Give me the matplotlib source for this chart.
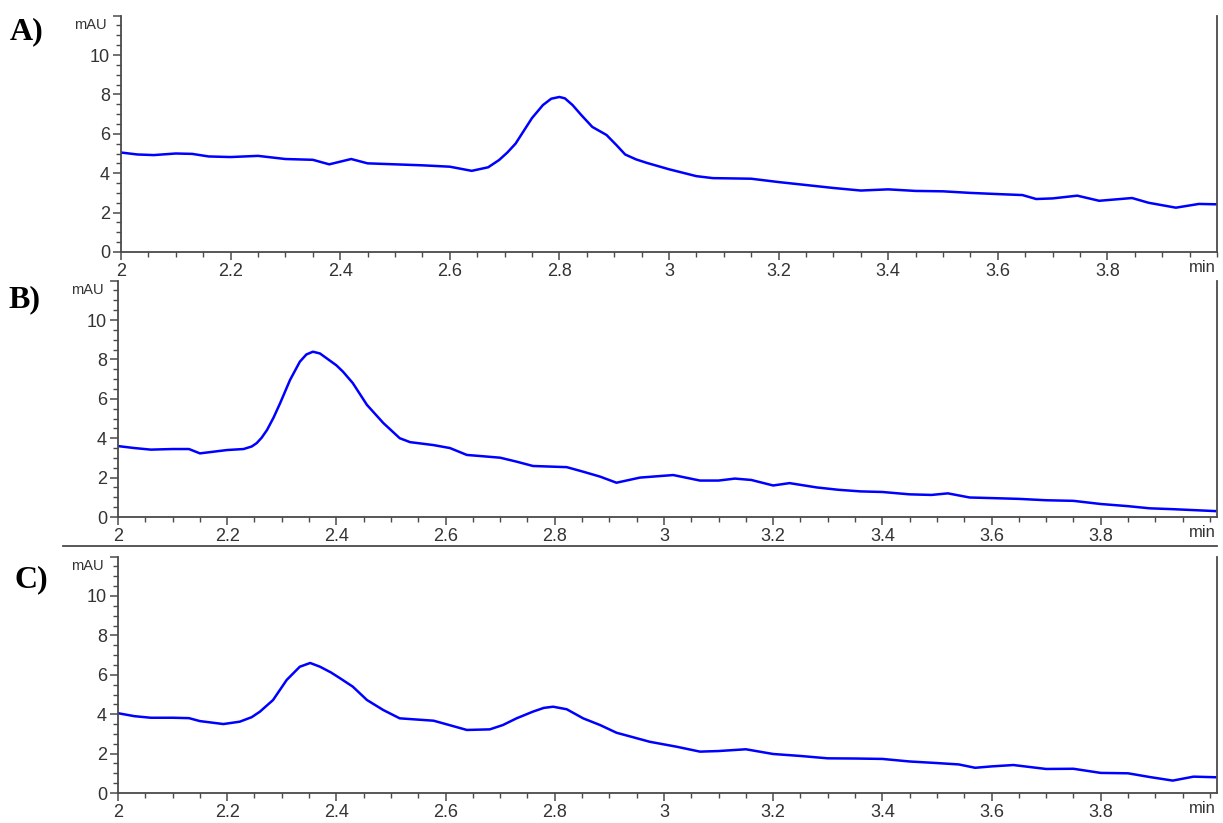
import matplotlib.pyplot as plt
from matplotlib.lines import Line2D
from matplotlib.ticker import MultipleLocator

# chromatogram A
time_a = [2.00, 2.03, 2.06, 2.10, 2.13, 2.16, 2.20, 2.25, 2.30, 2.35, 2.38, 2.42, 2.45,
          2.50, 2.55, 2.60, 2.64, 2.67, 2.69, 2.705, 2.72, 2.735, 2.75, 2.77, 2.785, 2.80,
          2.81, 2.824, 2.84, 2.86, 2.886, 2.905, 2.92, 2.94, 2.96, 3.00, 3.05, 3.08, 3.15,
          3.20, 3.25, 3.30, 3.35, 3.40, 3.45, 3.50, 3.55, 3.60, 3.645, 3.67, 3.70, 3.745,
          3.785, 3.845, 3.875, 3.925, 3.967, 4.00]
mau_a = [5.05, 4.95, 4.92, 5.00, 4.98, 4.85, 4.82, 4.88, 4.72, 4.68, 4.45, 4.72, 4.50,
         4.45, 4.40, 4.33, 4.12, 4.30, 4.67, 5.05, 5.50, 6.15, 6.80, 7.46, 7.78, 7.87,
         7.80, 7.46, 6.95, 6.35, 5.94, 5.40, 4.95, 4.70, 4.52, 4.20, 3.85, 3.75, 3.72,
         3.55, 3.40, 3.25, 3.12, 3.18, 3.10, 3.08, 3.00, 2.94, 2.89, 2.69, 2.72, 2.86,
         2.60, 2.74, 2.50, 2.25, 2.44, 2.42]

# chromatogram B
time_b = [2.00, 2.03, 2.06, 2.10, 2.13, 2.15, 2.20, 2.23, 2.245, 2.254, 2.263, 2.273, 2.285,
          2.297, 2.315, 2.333, 2.345, 2.357, 2.37, 2.382, 2.40, 2.412, 2.43, 2.456, 2.486,
          2.516, 2.535, 2.578, 2.608, 2.639, 2.67, 2.70, 2.73, 2.76, 2.822, 2.852, 2.883,
          2.913, 2.956, 3.017, 3.066, 3.10, 3.13, 3.16, 3.20, 3.23, 3.28, 3.32, 3.36,
          3.40, 3.45, 3.49, 3.52, 3.56, 3.60, 3.65, 3.70, 3.75, 3.80, 3.85, 3.89, 3.93,
          3.97, 4.01]
mau_b = [3.60, 3.50, 3.42, 3.45, 3.45, 3.23, 3.40, 3.45, 3.58, 3.75, 4.02, 4.42, 5.05,
         5.78, 6.95, 7.88, 8.25, 8.39, 8.30, 8.06, 7.70, 7.38, 6.80, 5.69, 4.77,
         4.00, 3.80, 3.65, 3.50, 3.15, 3.08, 3.01, 2.81, 2.59, 2.53, 2.30, 2.05,
         1.74, 2.00, 2.13, 1.85, 1.85, 1.95, 1.88, 1.60, 1.72, 1.50, 1.38, 1.30,
         1.27, 1.15, 1.12, 1.20, 0.99, 0.96, 0.92, 0.85, 0.82, 0.66, 0.55, 0.44, 0.40,
         0.35, 0.30]

# chromatogram C
time_c = [2.00, 2.03, 2.06, 2.10, 2.13, 2.15, 2.193, 2.223, 2.245, 2.26, 2.284, 2.309, 2.333,
          2.352, 2.37, 2.39, 2.407, 2.43, 2.456, 2.486, 2.516, 2.578, 2.595, 2.639, 2.681,
          2.705, 2.73, 2.76, 2.78, 2.797, 2.822, 2.852, 2.883, 2.913, 2.974, 3.023, 3.066,
          3.10, 3.15, 3.20, 3.25, 3.30, 3.35, 3.40, 3.45, 3.50, 3.54, 3.57, 3.60, 3.64,
          3.70, 3.75, 3.80, 3.85, 3.89, 3.932, 3.97, 4.01]
mau_c = [4.05, 3.90, 3.82, 3.82, 3.80, 3.65, 3.50, 3.62, 3.85, 4.13, 4.72, 5.74, 6.41,
         6.60, 6.41, 6.12, 5.82, 5.40, 4.72, 4.21, 3.79, 3.67, 3.54, 3.20, 3.23,
         3.45, 3.79, 4.13, 4.32, 4.38, 4.25, 3.79, 3.45, 3.06, 2.60, 2.35, 2.10,
         2.13, 2.22, 1.98, 1.88, 1.76, 1.75, 1.73, 1.60, 1.52, 1.45, 1.28, 1.35, 1.42,
         1.22, 1.23, 1.02, 1.00, 0.81, 0.63, 0.83, 0.80]

panel_labels = ['A)', 'B)', 'C)']
x_ticks = [2, 2.2, 2.4, 2.6, 2.8, 3, 3.2, 3.4, 3.6, 3.8]
x_tick_labels = ['2', '2.2', '2.4', '2.6', '2.8', '3', '3.2', '3.4', '3.6', '3.8']
y_ticks = [0, 2, 4, 6, 8, 10, 12]
y_tick_labels = ['0', '2', '4', '6', '8', '10', '']

W, H = 1223, 823
# pixel boxes: left, right, bottom (x axis), x max
boxes = [(121, 1217, 252, 4.0), (118, 1217, 517, 4.013), (118, 1217, 793, 4.013)]
label_pos = [(10, 32), (8, 300), (15, 580)]
px_per_unit = 19.7

plt.rcParams['font.family'] = ['Liberation Sans', 'DejaVu Sans']
fig = plt.figure(figsize=(W / 100, H / 100), dpi=100)
spine_col = '#4a4a4a'
text_col = '#333333'

for (t, v), lab, (l, r, b, xmax), (lx, ly) in zip(
        [(time_a, mau_a), (time_b, mau_b), (time_c, mau_c)], panel_labels, boxes, label_pos):
    h = 12 * px_per_unit
    ax = fig.add_axes([l / W, (H - b) / H, (r - l) / W, h / H])
    ax.plot(t, v, color='#0000ff', lw=1.8, solid_joinstyle='round')
    ax.set_xlim(2, xmax)
    ax.set_ylim(0, 12)
    ax.set_xticks(x_ticks)
    ax.set_xticklabels(x_tick_labels)
    ax.set_yticks(y_ticks)
    ax.set_yticklabels(y_tick_labels)
    ax.xaxis.set_minor_locator(MultipleLocator(0.05))
    ax.yaxis.set_minor_locator(MultipleLocator(0.5))
    ax.tick_params(which='major', length=6, width=1.1, color=spine_col,
                   labelsize=13, labelcolor=text_col, pad=2)
    ax.tick_params(which='minor', length=3.5, width=1.0, color=spine_col)
    ax.spines['top'].set_visible(False)
    for s in ['left', 'bottom', 'right']:
        ax.spines[s].set_color(spine_col)
        ax.spines[s].set_linewidth(1.3)
    ax.annotate('mAU', xy=(0, 11.5), xycoords=('axes fraction', 'data'),
                xytext=(-10, 0), textcoords='offset points',
                ha='right', va='center', fontsize=10.5, color=text_col)
    ax.annotate('min', xy=(1, 0), xycoords='axes fraction',
                xytext=(-1, -6), textcoords='offset points',
                ha='right', va='top', fontsize=12, color=text_col)
    fig.text(lx / W, 1 - ly / H, lab, family='Liberation Serif', weight='bold',
             fontsize=23, ha='left', va='center', color='black')

# separator line above the third chromatogram
fig.add_artist(Line2D([63 / W, 1217 / W], [1 - 546 / H, 1 - 546 / H],
                      color=spine_col, lw=1.3))

fig.savefig('out.png', dpi=100)
